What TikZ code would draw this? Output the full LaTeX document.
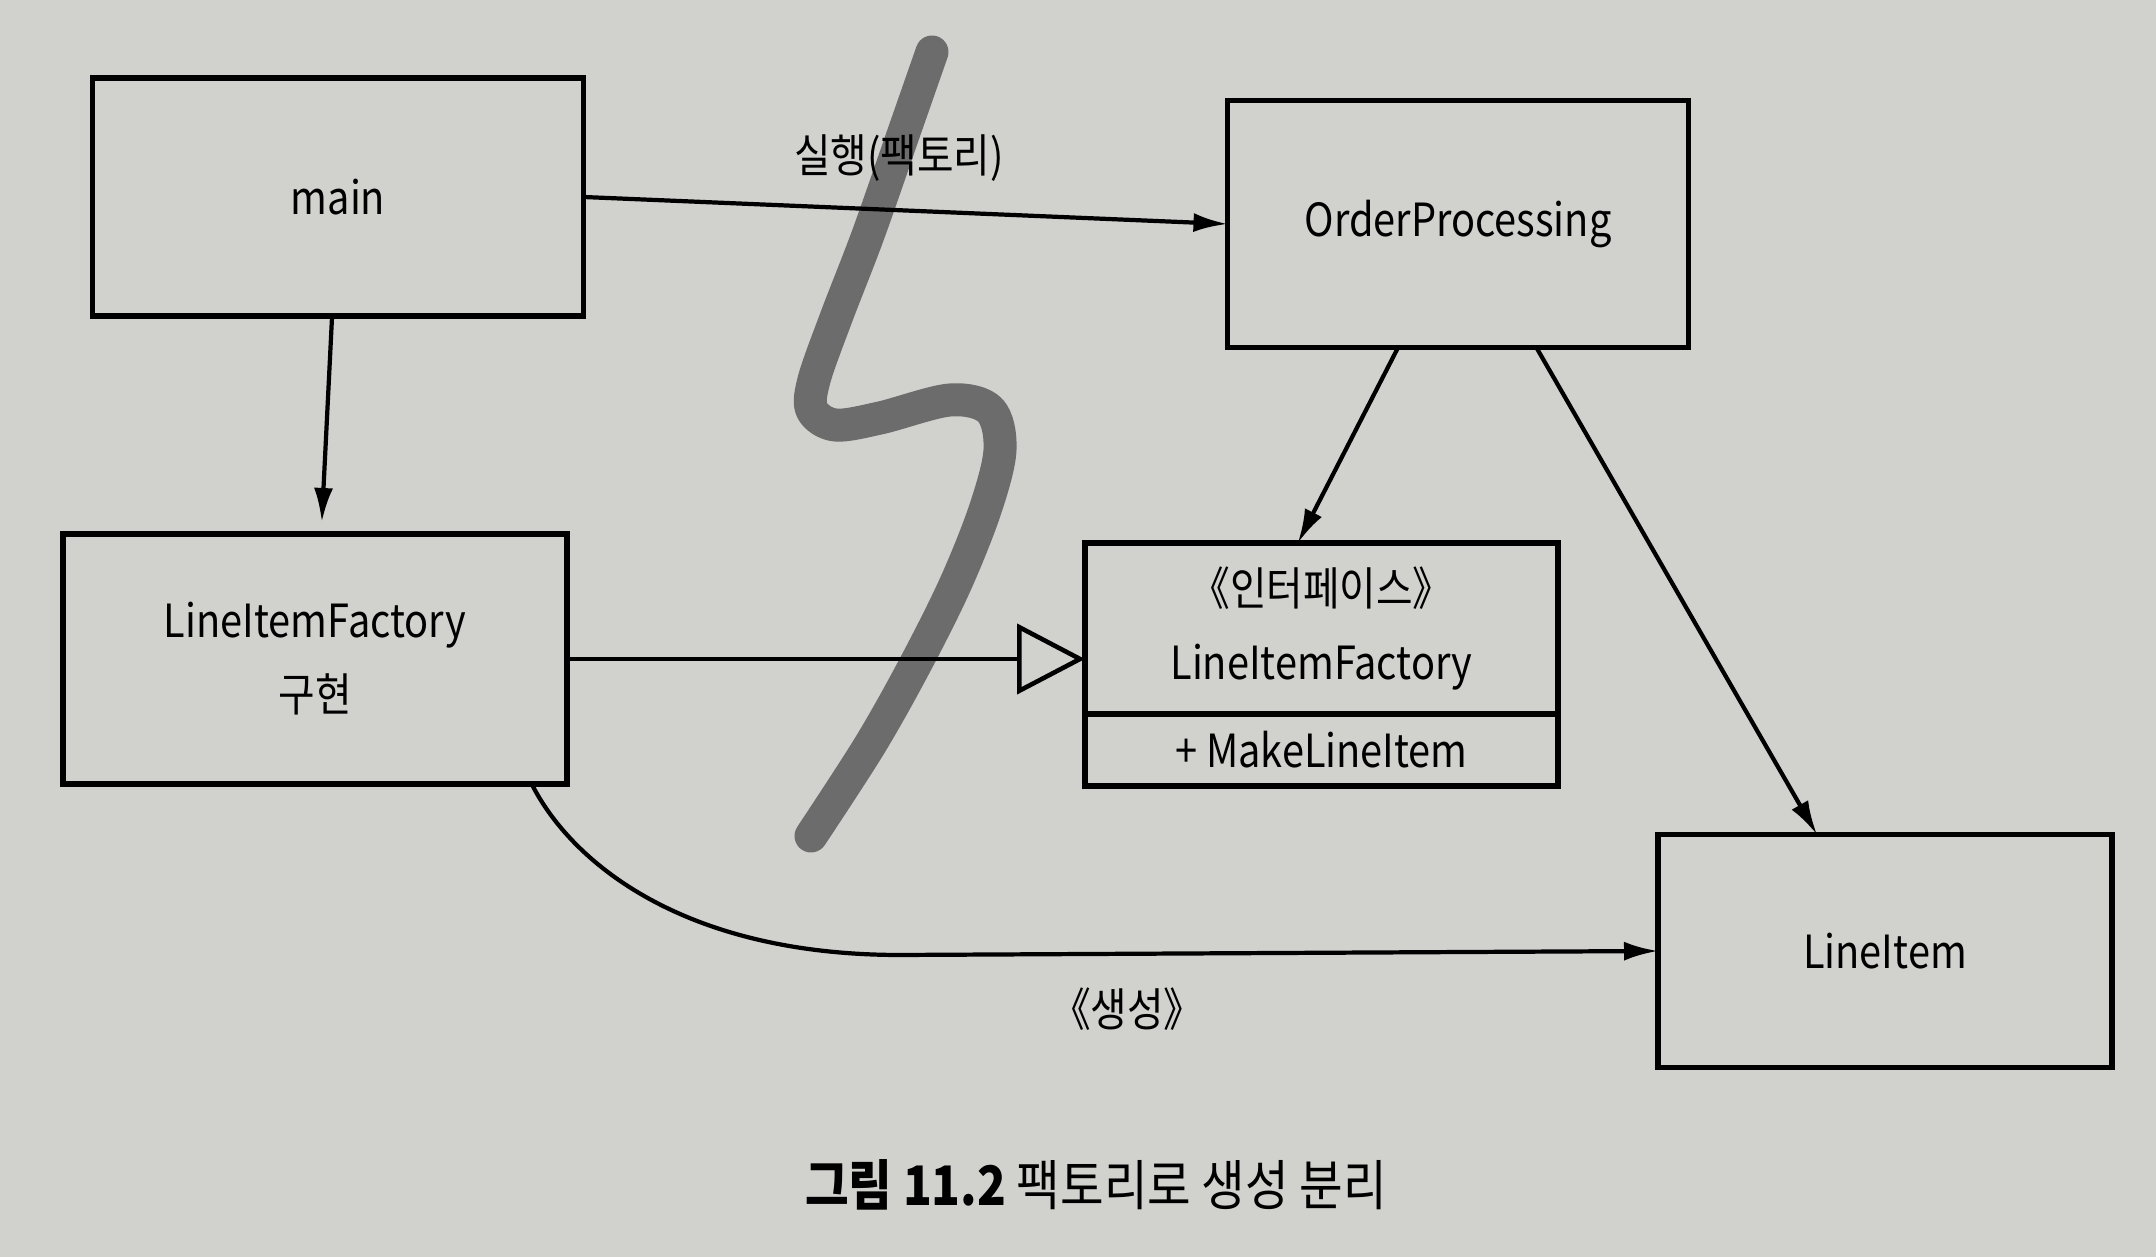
\documentclass[tikz,border=0pt]{standalone}
\usepackage{fontspec}
\setmainfont{Noto Sans CJK KR}[FakeStretch=0.87]
\usepackage{tikz}
\usetikzlibrary{positioning, arrows.meta, calc}
\definecolor{PaperColor}{RGB}{209,209,206}
\definecolor{MarkerGray}{RGB}{108,108,108}

\tikzset{
  box/.style={draw, line width=1.5pt, inner sep=0pt, outer sep=0pt, align=center, font=\fontsize{13}{21}\selectfont},
  arr/.style={-{Latex[length=3.4mm,width=1.9mm]}, line width=1.2pt},
  realize/.style={-{Triangle[open,length=6.8mm,width=7mm]}, line width=1.3pt},
  marker/.style={MarkerGray, line width=3.3mm, line cap=round, line join=round},
  lbl/.style={font=\fontsize{13}{15}\selectfont}
}

\begin{document}
\begin{tikzpicture}
  \useasboundingbox (0,0) rectangle (21.56,-12.57);
  \fill[PaperColor] (0,0) rectangle (21.56,-12.57);

  % boundary marker
  \draw[marker] plot[smooth, tension=0.55] coordinates {(9.32,-0.52) (9.03,-1.35) (8.68,-2.35) (8.36,-3.18) (8.14,-3.80) (8.12,-4.10) (8.35,-4.25) (8.80,-4.18) (9.50,-4.00) (9.90,-4.10) (10.00,-4.50) (9.85,-5.10) (9.55,-5.85) (9.15,-6.65) (8.70,-7.45) (8.11,-8.36)};

  % classes
  \node[box, minimum width=4.91cm, minimum height=2.38cm] (main) at (3.38,-1.97) {main};
  \node[box, minimum width=4.61cm, minimum height=2.47cm] (op) at (14.58,-2.24) {OrderProcessing};
  \node[box, minimum width=5.04cm, minimum height=2.50cm] (impl) at (3.15,-6.59) {LineItemFactory\\구현};
  \node[box, minimum width=4.73cm, minimum height=1.71cm] (ifname) at (13.215,-6.285) {《인터페이스》\\LineItemFactory};
  \node[box, minimum width=4.73cm, minimum height=0.72cm, below=0pt of ifname] (ifops) {+ MakeLineItem};
  \node[box, minimum width=4.54cm, minimum height=2.33cm] (item) at (18.85,-9.51) {LineItem};

  % connectors
  \draw[arr] (main.east) -- node[lbl, above=1.5mm, pos=0.49] {실행(팩토리)} (op.west);
  \draw[arr, shorten >=1.2mm] (main) -- (impl);
  \draw[realize] (impl.east) -- (impl.east -| ifname.west);
  \draw[arr] ($(op.south west)!0.37!(op.south east)$) -- ($(ifname.north west)!0.45!(ifname.north east)$);
  \draw[arr] ($(op.south west)!0.67!(op.south east)$) -- ($(item.north west)!0.35!(item.north east)$);
  \draw[arr] ($(impl.south west)!0.93!(impl.south east)$) .. controls (5.70,-8.60) and (6.80,-9.55) .. (9.00,-9.55)
    -- node[lbl, below=2mm, pos=0.3] {《생성》} (item.west);

  \node[font=\fontsize{15.5}{18}\selectfont] (caption) at (10.96,-11.85) {\textbf{그림 11.2} 팩토리로 생성 분리};
\end{tikzpicture}
\end{document}
